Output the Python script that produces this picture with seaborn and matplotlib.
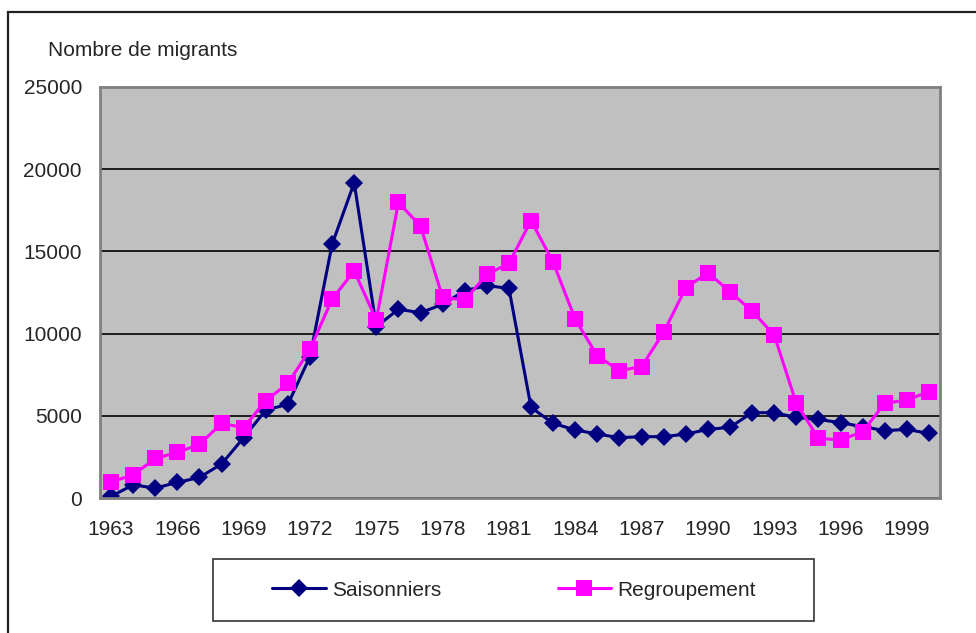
import numpy as np
import pandas as pd
import matplotlib
matplotlib.use("Agg")
import matplotlib.pyplot as plt
import seaborn as sns
from matplotlib.lines import Line2D

# data
years = list(range(1963, 2001))
saisonniers = [100, 800, 600, 950, 1250, 2070, 3670, 5350, 5700, 8600,
               15430, 19180, 10420, 11480, 11270, 11780, 12610, 12920, 12750, 5510,
               4540, 4140, 3890, 3670, 3730, 3730, 3890, 4170, 4300, 5190,
               5190, 4900, 4780, 4580, 4340, 4100, 4170, 3930]
regroupement = [990, 1400, 2410, 2770, 3260, 4540, 4280, 5920, 6970, 9040,
                12100, 13810, 10830, 17980, 16540, 12210, 12040, 13600, 14270, 16870,
                14340, 10870, 8640, 7750, 7990, 10080, 12790, 13700, 12550, 11370,
                9910, 5760, 3630, 3530, 4030, 5760, 5960, 6470]
tick_years = list(range(1963, 2000, 3))

df = pd.DataFrame({"annee": years, "Saisonniers": saisonniers, "Regroupement": regroupement})
long = df.melt(id_vars="annee", var_name="serie", value_name="n")

couleurs = {"Saisonniers": "#000080", "Regroupement": "#FF00FF"}
marqueurs = {"Saisonniers": "D", "Regroupement": "s"}

sns.set_style("white")
plt.rcParams['font.family'] = ['Liberation Sans', 'DejaVu Sans']
FS = 15

W, H = 976, 633
fig = plt.figure(figsize=(W / 100, H / 100), dpi=100)
ax = fig.add_axes([100 / W, 1 - 498 / H, 840 / W, 411 / H])
ax.set_facecolor("#C0C0C0")

sns.lineplot(data=long, x="annee", y="n", hue="serie", style="serie",
             palette=couleurs, markers=marqueurs, dashes=False,
             markersize=9, linewidth=2.2, markeredgewidth=0,
             ax=ax, legend=False)
for ln in ax.lines:
    if ln.get_marker() == "s":
        ln.set_markersize(11)

ax.set_xlim(1962.5, 2000.5)
ax.set_ylim(0, 25000)
ax.set_yticks(range(0, 25001, 5000))
ax.set_xticks(tick_years)
ax.set_xticks(np.arange(1962.5, 2001, 1), minor=True)
ax.tick_params(axis="x", which="major", length=0, labelsize=FS, pad=16)
ax.tick_params(axis="x", which="minor", length=6, width=1, color="black", direction="out")
ax.tick_params(axis="y", length=6, width=1, color="black", direction="out", labelsize=FS, pad=7)
ax.grid(axis="y", color="black", linewidth=1.2)
ax.set_axisbelow(True)
for s in ax.spines.values():
    s.set_color("#808080")
    s.set_linewidth(2)
ax.set_xlabel("")
ax.set_ylabel("")

fig.text(48 / W, 1 - 51 / H, "Nombre de migrants", fontsize=FS, va="center", ha="left")

# legend: box drawn separately, entries centred inside
fig.patches.append(plt.Rectangle((213 / W, 1 - 621 / H), 601 / W, 62 / H,
                                 transform=fig.transFigure, fill=False,
                                 edgecolor="#333333", linewidth=1.2))
handles = [Line2D([], [], color=couleurs["Saisonniers"], marker="D", markersize=9,
                  linewidth=2.2, markeredgewidth=0),
           Line2D([], [], color=couleurs["Regroupement"], marker="s", markersize=11,
                  linewidth=2.2, markeredgewidth=0)]
fig.legend(handles, ["Saisonniers", "Regroupement"], ncol=2,
           loc="center", bbox_to_anchor=(514 / W, 1 - 590 / H),
           frameon=False, fontsize=FS, handlelength=2.55, handletextpad=0.3,
           columnspacing=5.6, borderpad=0, borderaxespad=0)

# outer chart border
fig.patches.append(plt.Rectangle((8 / W, -0.05), 1.1, 1 - 12 / H + 0.05,
                                 transform=fig.transFigure, fill=False,
                                 edgecolor="#222222", linewidth=1.6))

fig.savefig("out.png", dpi=100)
